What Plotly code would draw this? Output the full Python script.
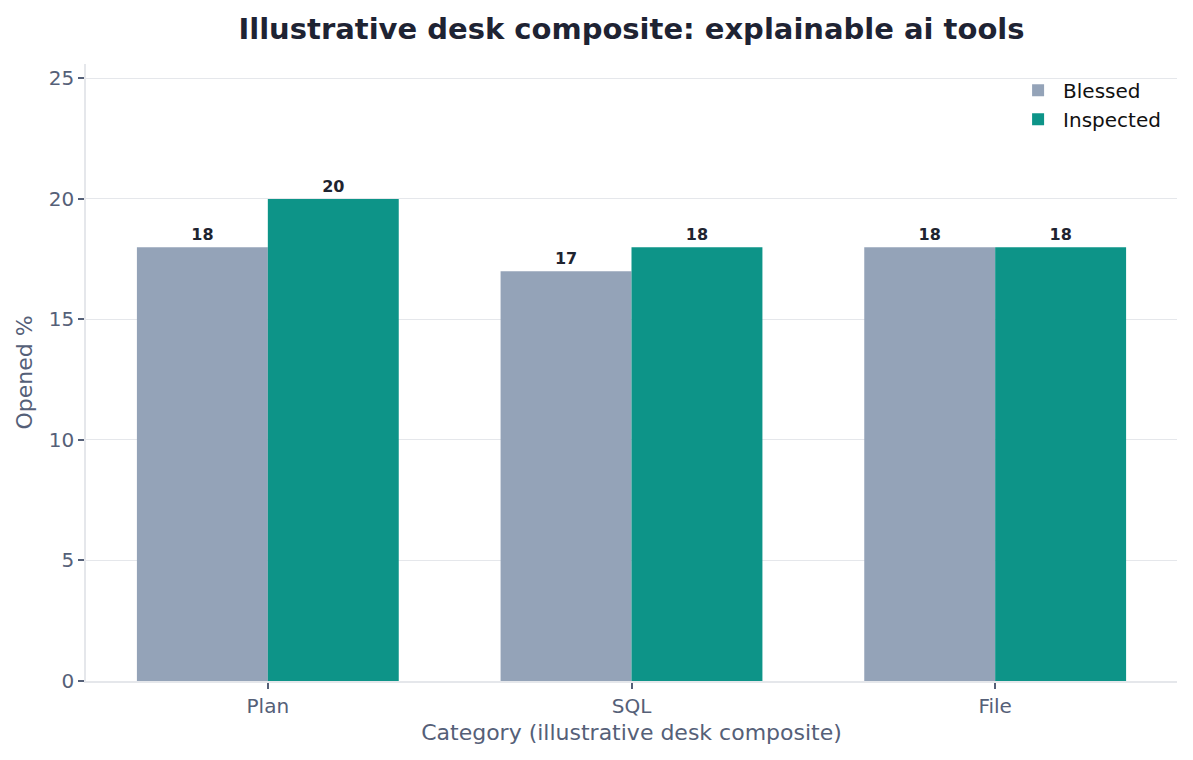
import plotly.graph_objects as go

categories = ["Plan", "SQL", "File"]
blessed = [18, 17, 18]
inspected = [20, 18, 18]
series_names = ["Blessed", "Inspected"]
y_ticks = [0, 5, 10, 15, 20, 25]

colors = ["#94a3b8", "#0d9488"]
font_family = "DejaVu Sans, sans-serif"

fig = go.Figure()
for name, vals, col in zip(series_names, [blessed, inspected], colors):
    fig.add_trace(go.Bar(
        x=categories, y=vals, name=name, marker=dict(color=col, line=dict(width=0)),
        text=[str(v) for v in vals], textposition="outside",
        textfont=dict(family=font_family, size=16, color="#1f2430", weight="bold"),
        cliponaxis=False,
    ))

fig.update_layout(
    width=1193, height=760,
    barmode="group", bargap=0.28, bargroupgap=0,
    paper_bgcolor="white", plot_bgcolor="white",
    margin=dict(l=78, r=24, t=56, b=87),
    font=dict(family=font_family, color="#556078"),
    title=dict(text="<b>Illustrative desk composite: explainable ai tools</b>",
               x=0.5, xref="paper", xanchor="center", y=0.972, yanchor="middle",
               font=dict(size=29, color="#1e2333", family=font_family)),
    legend=dict(x=0.99, y=0.989, xanchor="right", yanchor="top",
                bgcolor="rgba(0,0,0,0)", font=dict(size=20, color="#111111"),
                itemwidth=40, tracegroupgap=4),
    xaxis=dict(
        range=[-0.5, 2.5], showline=True, linecolor="#e5e7eb", linewidth=1.5,
        ticks="outside", tickcolor="#556078", ticklen=6, tickwidth=1.5,
        tickfont=dict(size=20, color="#556078"),
        title=dict(text="Category (illustrative desk composite)", font=dict(size=22, color="#556078"), standoff=8),
        showgrid=False, zeroline=False,
    ),
    yaxis=dict(
        range=[0, 25.6], tickvals=y_ticks, showline=True, linecolor="#e5e7eb", linewidth=1.5,
        ticks="outside", tickcolor="#556078", ticklen=6, tickwidth=1.5,
        tickfont=dict(size=20, color="#556078"),
        title=dict(text="Opened %", font=dict(size=22, color="#556078"), standoff=10),
        showgrid=True, gridcolor="#e5e7eb", gridwidth=1.2, zeroline=False,
    ),
)

fig.write_html("out.html")
